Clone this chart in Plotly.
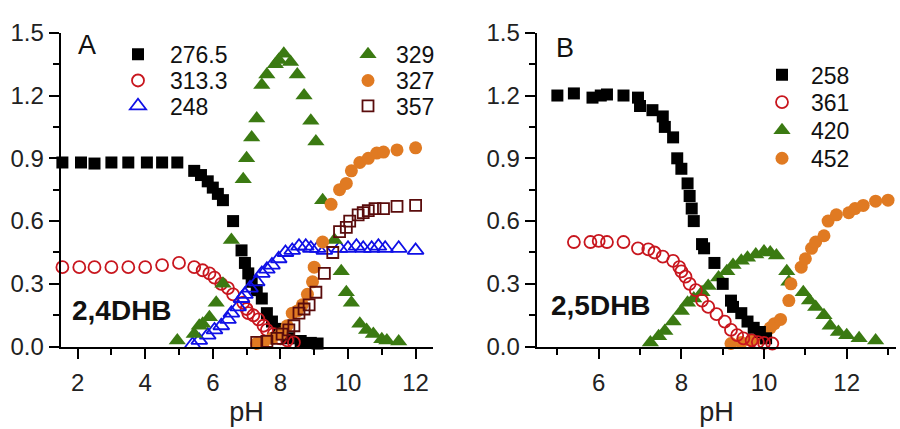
import plotly.graph_objects as go

W, H = 900, 429

# ---------------- Panel A (2,4DHB) ----------------
A_276_x = [1.55, 2.1, 2.5, 3.0, 3.5, 4.05, 4.5, 4.95, 5.45, 5.65, 5.85, 6.0, 6.15, 6.3, 6.6, 6.85, 6.95, 7.05,
           7.15, 7.3, 7.45, 7.6, 7.75, 7.95, 8.25, 8.6, 8.9, 9.1]
A_276_y = [0.88, 0.88, 0.875, 0.88, 0.88, 0.88, 0.88, 0.88, 0.84, 0.82, 0.79, 0.76, 0.73, 0.70, 0.60, 0.46, 0.40, 0.35,
           0.31, 0.27, 0.23, 0.16, 0.12, 0.085, 0.04, 0.027, 0.018, 0.015]

A_313_x = [1.55, 2.05, 2.5, 3.0, 3.5, 4.0, 4.5, 5.0, 5.45, 5.7, 5.9, 6.05, 6.25, 6.45, 6.6, 6.9, 7.0, 7.05, 7.2,
           7.35, 7.5, 7.6, 7.8, 8.0, 8.2, 8.4]
A_313_y = [0.38, 0.38, 0.38, 0.38, 0.38, 0.38, 0.39, 0.40, 0.38, 0.365, 0.35, 0.33, 0.30, 0.28, 0.25, 0.21, 0.18, 0.16,
           0.15, 0.13, 0.10, 0.08, 0.06, 0.04, 0.03, 0.02]

A_248_x = [5.4, 5.6, 5.85, 6.05, 6.25, 6.45, 6.55, 6.75, 6.85, 6.95, 7.1, 7.3, 7.45, 7.6, 7.75, 7.95, 8.15, 8.35,
           8.55, 8.75, 8.9, 9.1, 9.3, 9.75, 10.0, 10.25, 10.45, 10.7, 10.9, 11.1, 11.5, 12.0]
A_248_y = [0.01, 0.03, 0.055, 0.08, 0.10, 0.13, 0.16, 0.19, 0.23, 0.25, 0.28, 0.31, 0.35, 0.37, 0.39, 0.42, 0.45, 0.46,
           0.48, 0.48, 0.47, 0.47, 0.46, 0.47, 0.47, 0.48, 0.47, 0.47, 0.48, 0.47, 0.47, 0.46]

A_329_x = [4.95, 5.45, 5.6, 5.7, 5.9, 6.1, 6.3, 6.55, 6.9, 7.0, 7.15, 7.3, 7.45, 7.6, 7.85, 7.95, 8.1, 8.3, 8.5,
           8.7, 8.9, 9.05, 9.25, 9.6, 9.8, 9.95, 10.1, 10.35, 10.55, 10.75, 11.0, 11.15, 11.5]
A_329_y = [0.03, 0.06, 0.10, 0.11, 0.14, 0.21, 0.30, 0.51, 0.80, 0.90, 1.0, 1.09, 1.25, 1.30, 1.35, 1.37, 1.40, 1.36,
           1.30, 1.20, 1.08, 0.98, 0.70, 0.51, 0.36, 0.26, 0.21, 0.11, 0.08, 0.06, 0.035, 0.03, 0.025]

A_327_x = [7.3, 7.5, 7.75, 8.0, 8.2, 8.35, 8.5, 8.65, 8.8, 8.95, 9.0, 9.25, 9.5, 9.75, 9.95, 10.1, 10.35, 10.6,
           10.85, 11.05, 11.45, 12.0]
A_327_y = [0.015, 0.02, 0.04, 0.06, 0.10, 0.16, 0.17, 0.20, 0.25, 0.31, 0.38, 0.50, 0.68, 0.75, 0.78, 0.84, 0.88, 0.90,
           0.925, 0.93, 0.94, 0.95]

A_357_x = [7.3, 7.6, 7.9, 8.05, 8.25, 8.4, 8.55, 8.7, 8.85, 9.05, 9.3, 9.55, 9.75, 9.95, 10.05, 10.3, 10.45, 10.6,
           10.8, 11.05, 11.45, 12.0]
A_357_y = [0.02, 0.025, 0.04, 0.06, 0.08, 0.10, 0.16, 0.18, 0.20, 0.26, 0.35, 0.45, 0.55, 0.57, 0.60, 0.63, 0.64, 0.65,
           0.66, 0.66, 0.67, 0.675]

# ---------------- Panel B (2,5DHB) ----------------
B_258_x = [5.0, 5.4, 5.85, 6.05, 6.2, 6.6, 6.95, 7.0, 7.3, 7.55, 7.6, 7.8, 7.9, 8.0, 8.15, 8.2, 8.25, 8.3, 8.5, 8.55,
           8.8, 9.0, 9.2, 9.25, 9.45, 9.6, 9.75, 9.9, 10.05]
B_258_y = [1.20, 1.21, 1.19, 1.20, 1.205, 1.20, 1.19, 1.15, 1.13, 1.10, 1.05, 1.00, 0.90, 0.85, 0.78, 0.72, 0.66, 0.60,
           0.49, 0.47, 0.40, 0.30, 0.22, 0.19, 0.16, 0.12, 0.09, 0.07, 0.04]

B_361_x = [5.4, 5.8, 6.0, 6.2, 6.6, 6.95, 7.2, 7.35, 7.55, 7.8, 7.95, 8.0, 8.1, 8.2, 8.35, 8.5, 8.65, 8.85, 9.05,
           9.2, 9.35, 9.5, 9.7, 9.85, 10.0, 10.2]
B_361_y = [0.50, 0.50, 0.505, 0.50, 0.50, 0.47, 0.465, 0.45, 0.43, 0.41, 0.38, 0.36, 0.335, 0.30, 0.27, 0.22, 0.19,
           0.155, 0.12, 0.08, 0.055, 0.04, 0.03, 0.022, 0.018, 0.015]

B_420_x = [7.25, 7.45, 7.6, 7.8, 8.0, 8.15, 8.3, 8.5, 8.65, 8.9, 9.1, 9.25, 9.45, 9.6, 9.8, 10.0, 10.15, 10.3, 10.55,
           10.6, 10.95, 11.1, 11.25, 11.45, 11.6, 11.8, 12.0, 12.3, 12.7]
B_420_y = [0.02, 0.05, 0.075, 0.12, 0.17, 0.21, 0.23, 0.26, 0.29, 0.33, 0.36, 0.39, 0.41, 0.425, 0.44, 0.455, 0.45,
           0.435, 0.36, 0.31, 0.26, 0.22, 0.19, 0.15, 0.10, 0.07, 0.055, 0.04, 0.03]

B_452_x = [9.2, 9.45, 9.7, 9.95, 10.05, 10.15, 10.25, 10.4, 10.6, 10.65, 10.9, 11.0, 11.15, 11.25, 11.45, 11.55,
           11.75, 12.05, 12.2, 12.4, 12.7, 13.0]
B_452_y = [0.015, 0.02, 0.03, 0.04, 0.07, 0.09, 0.11, 0.13, 0.22, 0.30, 0.38, 0.42, 0.47, 0.50, 0.53, 0.60, 0.63,
           0.64, 0.66, 0.675, 0.695, 0.70]

Y_TICKS = [0.0, 0.3, 0.6, 0.9, 1.2, 1.5]
Y_TICKTEXT = ["0.0", "0.3", "0.6", "0.9", "1.2", "1.5"]
A_XTICKS = [2, 4, 6, 8, 10, 12]
B_XTICKS = [6, 8, 10, 12]

BLACK = "#000000"
RED = "#c8161e"
BLUE = "#1010e6"
GREEN = "#3b7a12"
ORANGE = "#e07a22"
BROWN = "#5a0c0c"

FONT = "Liberation Sans, Arial, sans-serif"

fig = go.Figure()

def px_to_paper(xp, yp):
    return xp / W, 1 - yp / H

# (x, y, name, symbol, color, open?, axis, legend marker centre px, text start px)
series = [
    (A_276_x, A_276_y, "276.5", "square", BLACK, False, "x", (138, 43, 172)),
    (A_313_x, A_313_y, "313.3", "circle-open", RED, True, "x", (138, 71, 172)),
    (A_248_x, A_248_y, "248", "triangle-up-open", BLUE, True, "x", (138, 98, 172)),
    (A_329_x, A_329_y, "329", "triangle-up", GREEN, False, "x", (368, 43, 398)),
    (A_327_x, A_327_y, "327", "circle", ORANGE, False, "x", (368, 71, 398)),
    (A_357_x, A_357_y, "357", "square-open", BROWN, True, "x", (368, 98, 398)),
    (B_420_x, B_420_y, "420", "triangle-up", GREEN, False, "x2", (782, 124, 813)),
    (B_452_x, B_452_y, "452", "circle", ORANGE, False, "x2", (782, 154, 813)),
    (B_258_x, B_258_y, "258", "square", BLACK, False, "x2", (782, 65, 813)),
    (B_361_x, B_361_y, "361", "circle-open", RED, True, "x2", (782, 94, 813)),
]

sizes = {"square": 12, "square-open": 11, "circle": 13, "circle-open": 12,
         "triangle-up": 15, "triangle-up-open": 14}

layout_legends = {}
for i, (xs, ys, name, sym, col, is_open, ax, (mx, my, tx)) in enumerate(series):
    lid = "legend" if i == 0 else f"legend{i + 1}"
    marker = dict(symbol=sym, size=sizes[sym], color=col)
    if is_open:
        marker["line"] = dict(color=col, width=1.8)
    else:
        marker["line"] = dict(width=0)
    fig.add_trace(go.Scatter(
        x=xs, y=ys, mode="markers", name=name, marker=marker,
        xaxis=ax, yaxis="y" if ax == "x" else "y2", cliponaxis=False,
        legend=lid, showlegend=True,
    ))
    iw = 2 * (tx - mx - 7)
    left = mx - 5 - iw / 2
    px_, py_ = px_to_paper(left, my)
    layout_legends[lid] = dict(
        x=px_, y=py_, xanchor="left", yanchor="middle",
        bgcolor="rgba(0,0,0,0)", borderwidth=0,
        font=dict(family=FONT, size=23, color="#111"),
        itemwidth=iw,
    )

axis_common = dict(
    showline=True, linecolor="black", linewidth=2, mirror=False,
    ticks="outside", ticklen=10, tickwidth=2, tickcolor="black",
    showgrid=False, zeroline=False,
    tickfont=dict(family=FONT, size=24, color="#222"),
)

fig.update_layout(
    width=W, height=H, margin=dict(l=0, r=0, t=0, b=0),
    paper_bgcolor="white", plot_bgcolor="white",
    font=dict(family=FONT, color="#111"),
    xaxis=dict(domain=[60.7 / W, 432.5 / W], range=[1.5, 12.5], anchor="y",
               tickvals=A_XTICKS, ticktext=[str(v) for v in A_XTICKS], ticklabelstandoff=4,
               minor=dict(dtick=1, tick0=0, ticks="outside", ticklen=6, tickwidth=2, tickcolor="black"),
               title=dict(text="pH", font=dict(family=FONT, size=27, color="#222"), standoff=7),
               **axis_common),
    yaxis=dict(domain=[74 / H, 409 / H], range=[0, 1.5], anchor="x",
               tickvals=Y_TICKS, ticktext=Y_TICKTEXT,
               minor=dict(dtick=0.15, tick0=0, ticks="outside", ticklen=6, tickwidth=2, tickcolor="black"),
               **axis_common),
    xaxis2=dict(domain=[536.7 / W, 896.3 / W], range=[4.5, 13.2], anchor="y2",
                tickvals=B_XTICKS, ticktext=[str(v) for v in B_XTICKS], ticklabelstandoff=4,
                minor=dict(dtick=1, tick0=0, ticks="outside", ticklen=6, tickwidth=2, tickcolor="black"),
                title=dict(text="pH", font=dict(family=FONT, size=27, color="#222"), standoff=7),
                **axis_common),
    yaxis2=dict(domain=[74 / H, 409 / H], range=[0, 1.5], anchor="x2",
                tickvals=Y_TICKS, ticktext=Y_TICKTEXT,
                minor=dict(dtick=0.15, tick0=0, ticks="outside", ticklen=6, tickwidth=2, tickcolor="black"),
                **axis_common),
    **layout_legends,
)

def add_label(text, xp, yp, size, bold=False):
    x, y = px_to_paper(xp, yp)
    fig.add_annotation(
        text=f"<b>{text}</b>" if bold else text, x=x, y=y, xref="paper", yref="paper",
        xanchor="center", yanchor="middle", showarrow=False,
        font=dict(family=FONT, size=size, color="#111"),
    )

add_label("A", 87, 33, 27)
add_label("B", 565, 36, 27)
add_label("2,4DHB", 122.5, 316, 28, bold=True)
add_label("2,5DHB", 601, 311, 28, bold=True)

fig.write_html("out.html")
